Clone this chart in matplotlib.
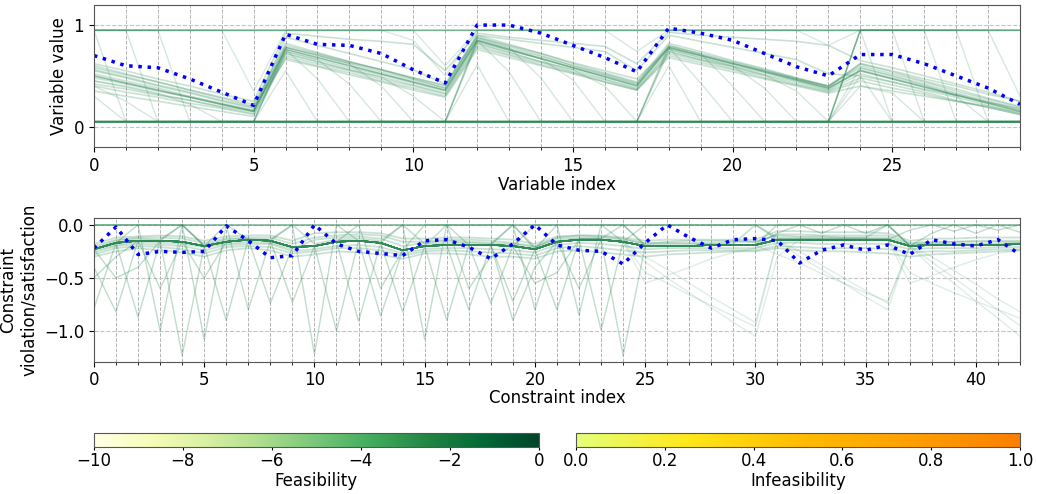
import numpy as np
import matplotlib
matplotlib.use("Agg")
from matplotlib import pyplot as plt
from matplotlib.ticker import MultipleLocator
from matplotlib.colors import Normalize
import matplotlib.cm as cm

# bounds of the variables (lines sitting on the box limits)
HI = 0.95
LO = 0.05

# ---- top panel: variable values ----
var_best = [0.70, 0.60, 0.58, 0.47, 0.34, 0.21, 0.91, 0.81, 0.80, 0.72, 0.56, 0.43,
            1.00, 1.00, 0.92, 0.80, 0.68, 0.54, 0.97, 0.92, 0.85, 0.72, 0.59, 0.50,
            0.71, 0.71, 0.62, 0.50, 0.38, 0.22]

var_lines = [
    [0.50, 0.43, 0.36, 0.29, 0.22, 0.15, 0.76, 0.68, 0.60, 0.52, 0.44, 0.36, 0.85, 0.76, 0.67,
     0.58, 0.49, 0.40, 0.78, 0.70, 0.62, 0.54, 0.46, 0.38, 0.55, 0.47, 0.39, 0.31, 0.23, 0.15],
    [0.55, 0.48, 0.40, 0.33, 0.25, 0.18, 0.78, 0.70, 0.62, 0.54, 0.46, 0.38, 0.88, 0.79, 0.70,
     0.60, 0.51, 0.42, 0.80, 0.72, 0.64, 0.56, 0.48, 0.40, 0.58, 0.50, 0.42, 0.33, 0.25, 0.17],
    [0.45, 0.39, 0.32, 0.26, 0.19, 0.13, 0.72, 0.64, 0.56, 0.49, 0.41, 0.33, 0.82, 0.73, 0.64,
     0.56, 0.47, 0.38, 0.74, 0.66, 0.59, 0.51, 0.44, 0.36, 0.52, 0.44, 0.36, 0.29, 0.21, 0.13],
    [0.60, 0.52, 0.44, 0.36, 0.28, 0.20, 0.80, 0.72, 0.64, 0.56, 0.48, 0.40, 0.90, 0.81, 0.72,
     0.62, 0.53, 0.44, 0.82, 0.74, 0.65, 0.57, 0.48, 0.40, 0.60, 0.52, 0.44, 0.35, 0.27, 0.19],
    [0.40, 0.34, 0.29, 0.23, 0.18, 0.12, 0.70, 0.62, 0.55, 0.47, 0.40, 0.32, 0.80, 0.71, 0.63,
     0.54, 0.46, 0.37, 0.72, 0.65, 0.57, 0.50, 0.42, 0.35, 0.48, 0.41, 0.34, 0.26, 0.19, 0.12],
    [0.52, 0.45, 0.38, 0.30, 0.23, 0.16, 0.74, 0.66, 0.58, 0.51, 0.43, 0.35, 0.84, 0.75, 0.67,
     0.58, 0.50, 0.41, 0.76, 0.68, 0.60, 0.53, 0.45, 0.37, 0.56, 0.48, 0.40, 0.32, 0.24, 0.16],
    [0.35, 0.30, 0.25, 0.20, 0.15, 0.10, 0.68, 0.60, 0.53, 0.45, 0.38, 0.30, 0.78, 0.70, 0.61,
     0.53, 0.44, 0.36, 0.70, 0.63, 0.56, 0.48, 0.41, 0.34, 0.45, 0.38, 0.32, 0.25, 0.19, 0.12],
    [0.58, 0.51, 0.44, 0.36, 0.29, 0.22, 0.82, 0.73, 0.64, 0.56, 0.47, 0.38, 0.86, 0.77, 0.69,
     0.60, 0.52, 0.43, 0.79, 0.71, 0.63, 0.55, 0.47, 0.39, 0.62, 0.54, 0.45, 0.37, 0.28, 0.20],
    [0.62, 0.55, 0.47, 0.40, 0.32, 0.25, 0.92, 0.89, 0.86, 0.84, 0.81, 0.55, 0.92, 0.88, 0.85,
     0.82, 0.79, 0.62, 0.93, 0.90, 0.88, 0.86, 0.84, 0.80, 0.65, 0.58, 0.50, 0.42, 0.34, 0.25],
    [0.42, 0.37, 0.31, 0.26, 0.20, 0.15, 0.88, 0.80, 0.72, 0.64, 0.56, 0.42, 0.90, 0.86, 0.82,
     0.78, 0.74, 0.55, 0.90, 0.84, 0.78, 0.72, 0.66, 0.52, 0.50, 0.44, 0.37, 0.31, 0.24, 0.18],
    [0.56, 0.49, 0.41, 0.34, 0.26, 0.19, 0.66, 0.59, 0.51, 0.44, 0.36, 0.29, 0.76, 0.68, 0.60,
     0.52, 0.44, 0.36, 0.68, 0.61, 0.54, 0.47, 0.40, 0.33, 0.40, 0.35, 0.30, 0.25, 0.20, 0.14],
    [0.48, 0.42, 0.35, 0.29, 0.22, 0.16, 0.78, 0.71, 0.63, 0.56, 0.48, 0.41, 0.88, 0.80, 0.72,
     0.63, 0.55, 0.47, 0.77, 0.70, 0.62, 0.55, 0.47, 0.40, 0.62, 0.55, 0.47, 0.40, 0.32, 0.25],
]

# solutions that hit the lower bound: values given, LO everywhere else
var_drops_lo = [
    {0: HI}, {0: HI, 1: HI}, {0: HI, 1: HI, 2: HI}, {0: 0.30}, {0: 0.40, 1: 0.25},
    {0: 0.45, 1: 0.40, 2: 0.33, 3: 0.22},
    {6: 0.55}, {6: 0.76, 7: 0.47}, {6: 0.74, 7: 0.66, 8: 0.42},
    {6: 0.78, 7: 0.70, 8: 0.62, 9: 0.40}, {6: 0.72, 7: 0.64, 8: 0.56, 9: 0.49, 10: 0.30},
    {12: 0.61}, {12: 0.85, 13: 0.54}, {12: 0.87, 13: 0.78, 14: 0.48},
    {12: 0.84, 13: 0.75, 14: 0.67, 15: 0.46}, {12: 0.82, 13: 0.73, 14: 0.64, 15: 0.56, 16: 0.40},
    {18: 0.60}, {18: 0.78, 19: 0.43}, {18: 0.80, 19: 0.72, 20: 0.40},
    {18: 0.76, 19: 0.68, 20: 0.60, 21: 0.38}, {18: 0.74, 19: 0.66, 20: 0.59, 21: 0.51, 22: 0.35},
    {24: HI}, {24: HI, 25: HI}, {24: HI, 25: HI, 26: HI}, {24: HI, 25: HI, 26: HI, 27: HI},
    {24: HI, 25: HI, 26: HI, 27: HI, 28: HI, 29: 0.30},
    {24: 0.50}, {24: 0.40, 25: 0.33}, {24: 0.58, 25: 0.50, 26: 0.41, 27: 0.30},
]
# solutions on the upper bound: values given, HI everywhere else
var_drops_hi = [{5: 0.35}, {11: 0.60}, {10: 0.85, 11: 0.50}, {17: 0.74}, {23: 0.80}]

# ---- bottom panel: constraint violation / satisfaction ----
con_best = [-0.22, -0.02, -0.28, -0.25, -0.26, -0.25, -0.01, -0.15, -0.31, -0.29, 0.00,
            -0.18, -0.25, -0.27, -0.29, -0.15, -0.14, -0.21, -0.32, -0.18, 0.00, -0.19,
            -0.24, -0.25, -0.37, -0.17, 0.00, -0.12, -0.22, -0.14, -0.13, -0.15, -0.36,
            -0.24, -0.19, -0.24, -0.19, -0.28, -0.14, -0.18, -0.20, -0.14, -0.28]

con_lines = [
    [-0.23, -0.17, -0.15, -0.15, -0.16, -0.20, -0.16, -0.14, -0.15, -0.21, -0.20, -0.16, -0.15,
     -0.17, -0.24, -0.20, -0.19, -0.19, -0.19, -0.20, -0.23, -0.16, -0.14, -0.14, -0.16, -0.20,
     -0.20, -0.20, -0.19, -0.19, -0.19, -0.14, -0.14, -0.14, -0.14, -0.14, -0.14, -0.20, -0.19,
     -0.19, -0.19, -0.19, -0.18],
    [-0.20, -0.14, -0.12, -0.12, -0.13, -0.17, -0.13, -0.12, -0.12, -0.18, -0.12, -0.10, -0.09,
     -0.10, -0.16, -0.16, -0.14, -0.14, -0.15, -0.17, -0.20, -0.13, -0.12, -0.12, -0.14, -0.17,
     -0.17, -0.17, -0.17, -0.16, -0.16, -0.09, -0.09, -0.10, -0.10, -0.10, -0.10, -0.17, -0.16,
     -0.16, -0.15, -0.15, -0.15],
    [-0.26, -0.20, -0.18, -0.19, -0.20, -0.24, -0.19, -0.18, -0.18, -0.25, -0.23, -0.20, -0.19,
     -0.21, -0.27, -0.23, -0.22, -0.22, -0.23, -0.24, -0.26, -0.19, -0.17, -0.18, -0.20, -0.23,
     -0.22, -0.22, -0.22, -0.22, -0.22, -0.17, -0.17, -0.18, -0.18, -0.18, -0.18, -0.23, -0.22,
     -0.22, -0.22, -0.21, -0.21],
    [-0.22, -0.15, -0.13, -0.14, 0.00, -0.19, -0.14, -0.13, -0.14, 0.00, -0.18, -0.14, -0.13,
     -0.15, 0.00, -0.18, -0.17, -0.17, -0.18, 0.00, -0.21, -0.15, -0.13, -0.13, 0.00, -0.19,
     -0.18, -0.18, -0.18, -0.18, 0.00, -0.12, -0.12, -0.12, -0.12, -0.12, 0.00, -0.19, -0.18,
     -0.18, -0.18, -0.18, -0.17],
    [-0.30, -0.25, -0.22, -0.24, -0.26, -0.30, -0.24, -0.22, -0.24, -0.30, -0.28, -0.25, -0.26,
     -0.28, -0.32, -0.27, -0.27, -0.28, -0.30, -0.30, -0.32, -0.25, -0.24, -0.26, -0.28, -0.30,
     -0.28, -0.27, -0.26, -0.25, -0.25, -0.22, -0.24, -0.25, -0.25, -0.26, -0.27, -0.30, -0.28,
     -0.27, -0.26, -0.25, -0.24],
    [-0.18, -0.12, -0.11, -0.10, -0.11, -0.15, -0.11, -0.10, -0.10, -0.15, -0.08, -0.07, -0.07,
     -0.08, -0.13, -0.13, -0.12, -0.12, -0.13, -0.14, -0.18, -0.11, -0.10, -0.10, -0.12, -0.15,
     -0.14, -0.14, -0.14, -0.14, -0.14, -0.06, -0.06, -0.07, -0.07, -0.07, -0.08, -0.15, -0.13,
     -0.13, -0.12, -0.12, -0.12],
    [-0.24, -0.19, -0.16, -0.17, -0.18, -0.21, -0.18, -0.16, -0.17, -0.23, -0.14, -0.12, -0.11,
     -0.13, -0.20, -0.17, -0.15, -0.16, -0.17, -0.18, -0.21, -0.12, -0.10, -0.11, -0.13, -0.18,
     -0.16, -0.15, -0.15, -0.15, -0.16, -0.10, -0.11, -0.11, -0.12, -0.12, -0.12, -0.18, -0.17,
     -0.16, -0.16, -0.16, -0.16],
    [-0.28, -0.22, -0.20, -0.21, -0.23, -0.27, -0.21, -0.20, -0.21, -0.27, -0.25, -0.22, -0.22,
     -0.24, -0.29, -0.25, -0.24, -0.25, -0.26, -0.27, -0.29, -0.22, -0.20, -0.22, -0.24, -0.26,
     -0.25, -0.24, -0.24, -0.24, -0.24, -0.20, -0.21, -0.22, -0.22, -0.22, -0.23, -0.26, -0.25,
     -0.25, -0.24, -0.23, -0.23],
]

# solutions that leave the main band at a few constraints (rest follows con_lines[0])
con_spikes = [
    {0: -0.79}, {0: -0.50, 1: -0.30}, {0: -0.40, 1: -0.82}, {1: -0.50, 2: -0.40},
    {2: 0.00, 3: -1.00, 4: 0.00}, {2: -0.87}, {3: -0.60}, {4: -1.23},
    {4: 0.00, 5: -1.08, 6: 0.00}, {5: -0.50}, {6: -0.90}, {6: 0.00, 7: -0.80},
    {8: -0.74}, {9: -0.73}, {9: 0.00, 10: -1.22, 11: 0.00}, {11: -1.00}, {12: -0.91},
    {13: -0.86}, {12: 0.00, 13: -0.60}, {14: -0.82}, {14: 0.00, 15: -1.08, 16: 0.00},
    {16: -0.90}, {17: -0.80}, {16: 0.00, 17: -0.60, 18: -0.30}, {18: -0.74}, {19: -0.72},
    {19: 0.00, 20: -0.80}, {19: -0.90, 20: -0.40}, {21: -0.80}, {21: 0.00, 22: -0.85, 23: 0.00},
    {23: -0.99}, {24: -1.23}, {22: -0.60}, {20: -0.55, 21: -0.45},
    {0: 0.00, 1: 0.00, 2: 0.00, 3: 0.00, 4: 0.00},
    {15: 0.00, 16: 0.00, 17: 0.00, 18: 0.00, 19: 0.00},
    {20: 0.00, 21: 0.00, 22: 0.00, 23: 0.00, 24: 0.00},
    {25: 0.00, 26: 0.00, 27: 0.00, 28: 0.00, 29: 0.00, 30: 0.00},
    {31: 0.00, 32: 0.00, 33: 0.00, 34: 0.00, 35: 0.00, 36: 0.00},
    {31: -0.08, 32: 0.00, 33: -0.08, 34: 0.00, 35: -0.08, 36: 0.00},
    {37: -0.05, 38: 0.00, 39: -0.06, 40: 0.00, 41: -0.05, 42: 0.00},
    {38: -0.08, 39: 0.00, 40: -0.08, 41: 0.00, 42: -0.07},
]
# faint solutions drifting away in the last constraints
con_ramps = [
    {25: -0.35, 26: -0.50, 27: -0.64, 28: -0.78, 29: -0.92, 30: -1.05, 31: -0.30},
    {25: -0.45, 26: -0.55, 27: -0.66, 28: -0.76, 29: -0.86, 30: -0.96},
    {25: -0.30, 26: -0.42, 27: -0.55, 28: -0.68, 29: -0.80, 30: -0.92},
    {25: -0.55, 26: -0.48, 27: -0.40, 28: -0.32, 29: -0.26, 30: -0.22},
    {32: -0.30, 33: -0.42, 34: -0.55, 35: -0.68, 36: -0.80},
    {32: -0.25, 33: -0.38, 34: -0.50, 35: -0.62, 36: -0.74},
    {31: -0.28, 32: -0.36, 33: -0.46, 34: -0.55, 35: -0.64, 36: -0.72},
    {38: -0.35, 39: -0.50, 40: -0.65, 41: -0.80, 42: -0.95},
    {38: -0.40, 39: -0.55, 40: -0.72, 41: -0.88, 42: -1.05},
    {38: -0.30, 39: -0.43, 40: -0.56, 41: -0.70, 42: -0.82},
    {37: -0.45, 38: -0.55, 39: -0.64, 40: -0.72, 41: -0.80, 42: -0.88},
    {37: -0.55, 38: -0.48, 39: -0.40, 40: -0.33, 41: -0.27, 42: -0.24},
]

feas_range = [-10, 0]
infeas_range = [0.0, 1.0]

GREEN = '#2e8b57'


def with_overrides(base, changes):
    line = list(base)
    for k, v in changes.items():
        line[k] = v
    return line


var_idx = np.arange(len(var_best))
con_idx = np.arange(len(con_best))

fig = plt.figure(figsize=(10.37, 4.94), dpi=100)
ax1 = fig.add_axes([0.0906, 0.7024, 0.893, 0.288])
ax2 = fig.add_axes([0.0906, 0.2678, 0.893, 0.290])
cax1 = fig.add_axes([0.0906, 0.0945, 0.429, 0.0283])
cax2 = fig.add_axes([0.5554, 0.0945, 0.4282, 0.0283])

# top panel
ax1.plot(var_idx, [HI] * len(var_idx), color=GREEN, alpha=0.4, lw=1)
ax1.plot(var_idx, [LO] * len(var_idx), color=GREEN, alpha=0.35, lw=1)
for spec in var_drops_lo:
    ax1.plot(var_idx, with_overrides([LO] * len(var_idx), spec), color=GREEN, alpha=0.2, lw=1)
for spec in var_drops_hi:
    ax1.plot(var_idx, with_overrides([HI] * len(var_idx), spec), color=GREEN, alpha=0.18, lw=1)
for i, vals in enumerate(var_lines):
    ax1.plot(var_idx, vals, color=GREEN, alpha=0.55 if i == 0 else 0.25, lw=1.2)
ax1.plot(var_idx, var_best, color='blue', ls=':', lw=2.5)
ax1.set_xlim(0, len(var_idx) - 1)
ax1.set_ylim(-0.2, 1.2)
ax1.set_yticks([0, 1])
ax1.set_xlabel('Variable index', fontsize=12, labelpad=1)
ax1.set_ylabel('Variable value', fontsize=12)

# bottom panel
ax2.plot(con_idx, [0.0] * len(con_idx), color=GREEN, alpha=0.6, lw=1.2)
for spec in con_ramps:
    ax2.plot(con_idx, with_overrides(con_lines[0], spec), color=GREEN, alpha=0.15, lw=1)
for spec in con_spikes:
    ax2.plot(con_idx, with_overrides(con_lines[0], spec), color=GREEN, alpha=0.3, lw=1)
for i, vals in enumerate(con_lines):
    ax2.plot(con_idx, vals, color=GREEN, alpha=0.6 if i == 0 else 0.25, lw=1.3)
ax2.plot(con_idx, con_best, color='blue', ls=':', lw=2.5)
ax2.set_xlim(0, len(con_idx) - 1)
ax2.set_ylim(-1.29, 0.06)
ax2.set_yticks([-1.0, -0.5, 0.0])
ax2.set_xlabel('Constraint index', fontsize=12, labelpad=0)
ax2.set_ylabel('Constraint\nviolation/satisfaction', fontsize=12)

for ax in (ax1, ax2):
    ax.xaxis.set_major_locator(MultipleLocator(5))
    ax.xaxis.set_minor_locator(MultipleLocator(1))
    ax.grid(which='major', axis='y', ls='--', color='#c4c4c4', lw=0.8)
    ax.grid(which='both', axis='x', ls='--', color='#b4b4b4', lw=0.7)
    ax.tick_params(labelsize=12)
    ax.tick_params(which='minor', length=2)
    for sp in ax.spines.values():
        sp.set_color('#555555')

cb1 = fig.colorbar(cm.ScalarMappable(norm=Normalize(*feas_range), cmap='YlGn'),
                   cax=cax1, orientation='horizontal')
cb1.set_label('Feasibility', fontsize=12, labelpad=1)
cb2 = fig.colorbar(cm.ScalarMappable(norm=Normalize(*infeas_range), cmap='Wistia'),
                   cax=cax2, orientation='horizontal')
cb2.set_label('Infeasibility', fontsize=12, labelpad=1)
for cb in (cb1, cb2):
    cb.ax.tick_params(labelsize=12, length=2, pad=1.5)
    cb.outline.set_edgecolor('#555555')

fig.savefig('out.png', dpi=100)
